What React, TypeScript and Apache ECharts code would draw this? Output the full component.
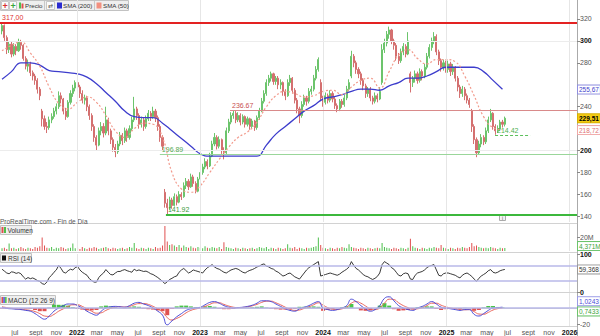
import React, { useEffect, useRef } from "react";
import * as echarts from "echarts";

const DAY = 86400000;
const START = Date.UTC(2021, 4, 24);
const X_MIN = Date.UTC(2021, 4, 18);
const X_MAX = Date.UTC(2026, 0, 23);
const weekTs = (i: number) => START + i * 7 * DAY;

// weekly candles [open, close, low, high]
const candles: number[][] = [
  [309,314,306,317],[314,303,300,315],[303,292,288,305],[292,297,289,300],[297,288,285,299],
  [288,295,286,298],[295,291,287,297],[291,299,290,302],[299,296,292,301],[296,284,282,297],
  [284,277,274,286],[277,279,272,283],[279,271,268,281],[271,268,264,273],[268,264,260,270],
  [264,256,252,266],[256,250,246,258],[236,229,222,238],[229,222,219,232],[222,221,216,226],
  [221,228,219,231],[228,231,225,234],[231,236,229,239],[236,240,233,243],[240,250,238,254],
  [250,247,243,253],[247,236,233,248],[236,231,228,239],[231,244,230,246],[244,252,242,255],
  [252,257,249,260],[257,262,254,264],[262,258,255,266],[258,252,248,260],[252,246,243,255],
  [246,248,242,251],[248,240,236,250],[240,232,228,242],[232,222,218,234],[222,212,208,224],
  [212,205,200,214],[205,218,204,221],[218,222,214,226],[222,216,212,225],[216,228,214,240],
  [228,218,214,230],[218,210,206,220],[210,203,199,212],[203,199,194,206],[199,206,197,209],
  [206,214,204,217],[214,209,205,216],[209,218,207,221],[218,212,208,220],[212,220,210,223],
  [220,228,218,231],[228,238,226,249],[238,232,228,240],[232,224,220,234],[224,228,221,231],
  [228,222,218,230],[222,229,220,232],[229,234,227,237],[234,231,227,236],[231,236,229,240],
  [236,230,226,238],[230,222,218,232],[222,212,208,224],[212,204,200,214],[162,152,148,165],
  [152,148,142,156],[148,155,146,158],[155,150,147,157],[150,158,149,161],[158,153,150,160],
  [153,160,152,163],[160,158,155,162],[158,168,157,171],[168,172,165,175],[172,167,164,174],
  [167,176,166,179],[176,170,167,178],[170,163,161,172],[163,174,162,176],[174,180,172,183],
  [180,185,178,188],[185,190,183,193],[190,186,183,192],[186,195,185,198],[195,206,194,209],
  [206,212,204,216],[212,204,201,214],[204,210,202,213],[210,200,197,211],[200,198,192,203],
  [198,218,197,221],[218,226,216,229],[226,232,224,235],[232,234,229,237],[234,228,225,236],
  [228,232,226,235],[232,226,223,234],[226,231,224,233],[231,224,221,232],[224,229,222,231],
  [229,222,219,230],[222,227,220,229],[227,221,218,228],[221,230,219,232],[230,236,228,239],
  [236,245,235,248],[245,252,243,255],[252,262,250,265],[262,266,259,269],[266,270,263,272],
  [270,263,260,271],[263,266,260,268],[266,260,256,268],[260,262,256,265],[262,254,250,263],
  [254,250,246,256],[250,262,249,265],[262,266,259,269],[266,255,252,267],[255,246,243,257],
  [246,238,234,248],[238,232,225,240],[232,242,230,245],[242,248,240,251],[248,245,241,250],
  [245,254,243,257],[254,256,251,259],[256,266,254,269],[266,274,264,277],[274,283,272,285],
  [262,248,245,265],[248,244,240,250],[244,250,242,253],[250,246,243,252],[246,252,244,255],
  [252,247,244,254],[247,241,238,249],[241,238,235,243],[238,245,236,247],[245,242,239,247],
  [242,248,240,251],[248,256,246,259],[256,262,254,265],[268,286,266,291],[286,280,276,288],
  [280,274,270,282],[274,270,266,276],[270,264,260,272],[264,259,255,266],[259,252,248,261],
  [252,256,249,258],[256,248,245,258],[248,245,242,250],[245,250,243,253],[250,247,244,252],
  [247,254,246,258],[262,292,260,297],[292,298,289,302],[298,306,295,309],[306,310,302,313],
  [310,300,297,311],[300,296,292,302],[296,286,282,298],[286,282,279,289],[282,290,280,293],
  [290,295,287,298],[295,288,285,297],[288,300,287,308],[270,262,253,272],[262,266,258,268],
  [266,270,262,273],[270,264,261,272],[264,272,262,275],[272,268,264,274],[268,276,266,279],
  [276,286,274,289],[286,294,284,297],[294,300,291,303],[300,304,297,308],[304,290,287,306],
  [290,282,278,292],[282,276,272,284],[276,280,273,283],[280,274,271,282],[274,279,271,282],
  [279,272,268,281],[272,276,269,279],[276,266,263,277],[266,258,254,268],[258,252,248,260],
  [252,256,249,259],[256,250,246,258],[250,246,243,252],[246,242,239,248],[236,222,217,238],
  [222,210,206,224],[210,198,194,212],[198,206,196,209],[206,212,203,215],[212,208,205,214],
  [208,218,206,221],[218,228,216,231],[228,234,226,238],[234,222,219,235],[222,218,214.42,224],
  [218,220,216,223],[220,226,218,228],[226,224,221,228],[224,229.51,222,231]
];

// weekly volume (millions)
const volumes: number[] = [
  4,5,3,11,4,5,3,4,6,4, 3,5,4,3,6,5,7,20,8,5, 4,6,3,5,4,6,5,3,4,5,
  11,4,5,3,6,4,3,5,4,6, 5,3,4,5,6,4,3,5,4,3, 4,5,3,4,6,5,12,4,3,5,
  4,3,5,4,3,6,4,5,8,37, 14,9,10,8,6,9,5,8,6,5, 7,5,4,6,5,4,7,5,4,6,
  5,4,6,3,13,6,5,4,3,5, 4,3,5,4,3,4,5,3,4,6, 5,4,6,3,5,4,3,5,4,3,
  4,10,5,4,6,3,5,4,3,5, 4,5,6,7,20,9,5,4,3,5, 4,3,5,4,6,5,4,10,6,5,
  4,3,5,4,3,5,4,3,4,5, 4,12,6,5,4,3,5,4,3,5, 4,3,5,18,7,5,4,3,5,4,
  3,5,4,6,5,4,9,5,4,3, 5,4,3,5,4,6,5,4,6,12, 7,8,6,5,4,5,4,6,5,4,
  3,5,4,4.371
];

// weekly RSI(14)
const rsi: number[] = [
  60,55,50,48,53,52,49,51,48,40, 34,38,35,37,34,30,28,22,20,26,
  38,44,52,58,70,62,52,50,56,60, 58,64,67,58,52,48,44,35,30,26,
  26,38,45,50,59,52,46,45,50,54, 54,57,59,56,54,52,60,56,58,56,
  54,55,52,48,46,42,38,33,28,22, 27,33,36,40,42,52,58,62,56,50,
  53,58,56,54,52,50,58,64,68,72, 66,62,60,56,52,50,54,58,60,62,
  60,56,52,50,54,57,59,62,66,68, 72,74,68,66,62,60,55,52,47,42,
  44,48,50,45,40,37,34,42,50,58, 64,68,72,76,80,42,44,46,48,50,
  48,46,44,47,52,56,60,66,80,70, 62,58,52,46,42,40,36,33,36,41,
  50,72,80,76,72,64,60,52,44,42, 48,50,48,34,33,44,50,52,54,58,
  64,68,70,72,58,44,42,48,50,50, 48,46,44,40,37,44,48,50,46,41,
  34,28,36,42,46,50,56,59,52,50, 52,56,58,59.368
];

// moving averages, one value every 4 weeks
const sma200: number[] = [
  265,272,280,280,278,273,272,271,270,267, 261,253,245,236,231,230,230,225,218,211,
  204,197,195,195,195,195,195,195,205,215, 222,229,236,241,247,249,251,254,256,256,
  255,259,262,266,266,268,272,276,276,276, 276,272,264,256
];
const sma50: number[] = [
  291,296,299,289,277,258,243,238,244,249, 244,232,218,212,220,225,224,212,180,165,
  162,168,180,192,203,212,217,226,240,250, 254,252,249,250,254,255,251,258,264,266,
  257,272,287,292,284,279,283,283,281,268, 250,231,221,219
];

// MACD (12 26 9), one value every 2 weeks
const macd: number[] = [
  1,-0.5,-1,-1.5,-2,-3,-4,-7,-11,-14, -10,-4,0,3,5,5,3,0,-4,-7,
  -9,-4,0,1.5,2,1.5,1,3,6,7, 5,3,0,-4,-9,-21,-16,-11,-7,-3,
  -1,0,1,4,7,8,6,3,1,0, 0.5,1,2,3.5,6,9,9,8,5,2,
  -1,-3,-4,-1,1,3,6,8,0,-2, -3,-2,0,3,11,8,3,-1,-4,-2,
  3,12,14,9,3,0,-2,-3,0,2, 5,8,5,1,0,-1,-2,-3,-2,-2,
  -8,-10,-7,-3,0,0.5,1
];
const signal: number[] = [
  1.5,0.5,-0.3,-1,-1.5,-2.2,-3,-4.5,-7,-10, -10.5,-8,-4,-1,2,4,4,2,-1,-4,
  -6.5,-6,-3,-0.5,1,1.5,1.2,2,4,5.5, 5.5,4.5,2,-1,-5,-12,-15,-13,-10,-6,
  -3,-1.2,0,2,4.5,6.5,6.5,4.5,2.5,1, 0.5,0.7,1.5,2.7,4.5,7,8.5,8.5,6.5,4,
  1,-1.5,-3,-2.5,-0.5,1.5,4,6.5,3.5,0.5, -1.5,-2,-1,1,6,8,6,2.5,-1,-2,
  0,6,11,10.5,6.5,3,0.5,-1.5,-1,0.5, 3,6,6,3.5,1.5,0,-1,-2,-2.2,-2,
  -4.5,-7.5,-7.8,-5.5,-2.5,-0.8,0.3
];

const priceTicks = [140, 160, 180, 200, 240, 280, 300, 320];
const boldPrice = [200, 300];
const monthNames = ["ene","feb","mar","abr","may","jun","jul","ago","sept","oct","nov","dic"];
const years = [2022, 2023, 2024, 2025, 2026];

const levels = [
  { value: 317.0, text: "317,00", start: X_MIN, end: X_MAX, color: "#e32222", textColor: "#e03030", width: 2, dashed: false },
  { value: 236.67, text: "236.67", start: Date.UTC(2023, 2, 31), end: X_MAX, color: "#d98a8a", textColor: "#c85050", width: 1, dashed: false },
  { value: 196.89, text: "196.89", start: Date.UTC(2022, 8, 4), end: X_MAX, color: "#9ad69a", textColor: "#55aa55", width: 1, dashed: false },
  { value: 141.92, text: "141.92", start: Date.UTC(2022, 8, 22), end: X_MAX, color: "#3cb83c", textColor: "#3a9a3a", width: 2, dashed: false },
  { value: 214.42, text: "214.42", start: Date.UTC(2025, 4, 25), end: Date.UTC(2025, 8, 6), color: "#5cc05c", textColor: "#50b050", width: 1.2, dashed: true },
];

const UP = "#6cc46c";
const DOWN = "#d47070";
const FONT = "Liberation Sans, Arial, sans-serif";

function buildOption() {
  const xTicks: number[] = [];
  for (let y = 2021; y <= 2026; y++) {
    for (let m = 0; m < 12; m += 2) {
      const t = Date.UTC(y, m, 1);
      if (t >= Date.UTC(2021, 6, 1) && t <= Date.UTC(2026, 0, 1)) xTicks.push(t);
    }
  }
  const yearLines = years.map((y) => ({
    xAxis: Date.UTC(y, 0, 1),
    lineStyle: { color: "#e6e6e6", width: 1, type: "solid" },
    label: { show: false },
  }));
  const box = (v: number, text: string, color: string, bg: string, border: string, bold = false, offsetY = 0) => ({
    yAxis: v,
    lineStyle: { color: "rgba(0,0,0,0)", width: 0 },
    label: {
      show: true, position: "end", distance: 1, formatter: text, fontSize: 6.5, fontFamily: FONT,
      color, backgroundColor: bg, borderColor: border, borderWidth: 1, padding: [1, 1, 0, 1],
      fontWeight: bold ? "bold" : "normal", offset: [0, offsetY],
    },
  });
  const hLine = (v: number, color: string, width: number) => ({
    yAxis: v, lineStyle: { color, width, type: "solid" }, label: { show: false },
  });
  const levelItems = levels.map((l) => [
    {
      coord: [l.start, l.value],
      lineStyle: { color: l.color, width: l.width, type: l.dashed ? [3, 2] : "solid" },
      label: { show: true, position: "insideStartTop", formatter: l.text, color: l.textColor, fontSize: 7, fontFamily: FONT, distance: [2, 1] },
    },
    { coord: [l.end, l.value] },
  ]);

  const xAxisBase = (i: number) => ({
    type: "value", gridIndex: i, min: X_MIN, max: X_MAX, scale: true,
    axisLine: { show: i === 3, lineStyle: { color: "#cfcfcf" } },
    axisTick: { show: false }, splitLine: { show: false },
    axisLabel: i === 3 ? {
      show: true, customValues: xTicks, margin: 3, fontSize: 7, fontFamily: FONT,
      formatter: (v: number) => {
        const d = new Date(v);
        const m = d.getUTCMonth();
        return m === 0 ? "{y|" + d.getUTCFullYear() + "}" : "{m|" + monthNames[m] + "}";
      },
      rich: {
        y: { fontWeight: "bold", color: "#111", fontSize: 7, fontFamily: FONT },
        m: { color: "#555", fontSize: 7, fontFamily: FONT },
      },
    } : { show: false },
  });

  const yAxisBase = (i: number, min: number, max: number, ticks: number[], fmt: (v: number) => string) => ({
    type: "value", gridIndex: i, position: "right", min, max, scale: true,
    axisLine: { show: true, lineStyle: { color: "#aaaaaa" } },
    axisTick: { show: true, length: 3, customValues: ticks, lineStyle: { color: "#888" } },
    splitLine: { show: false },
    axisLabel: {
      customValues: ticks, margin: 3, fontSize: 7, fontFamily: FONT, formatter: fmt,
      rich: { b: { fontWeight: "bold", color: "#111", fontSize: 7, fontFamily: FONT }, n: { color: "#555", fontSize: 7, fontFamily: FONT } },
    },
  });

  const hist = macd.map((v, j) => +(v - signal[j]).toFixed(2));

  return {
    animation: false,
    textStyle: { fontFamily: FONT },
    grid: [
      { left: 0, top: 0, width: 577, height: 222 },
      { left: 0, top: 224, width: 577, height: 27 },
      { left: 0, top: 254, width: 577, height: 38 },
      { left: 0, top: 293, width: 577, height: 33 },
    ],
    xAxis: [xAxisBase(0), xAxisBase(1), xAxisBase(2), xAxisBase(3)],
    yAxis: [
      yAxisBase(0, 134.9, 337.3, priceTicks, (v) => (boldPrice.includes(v) ? "{b|" + v + "}" : "{n|" + v + "}")),
      yAxisBase(1, 0, 40, [20], () => "{n|20M}"),
      yAxisBase(2, 0, 100, [0, 100], (v) => "{b|" + v + "}"),
      yAxisBase(3, -22.5, 18.75, [-20], (v) => "{n|" + v + "}"),
    ],
    series: [
      {
        type: "line", xAxisIndex: 0, yAxisIndex: 0, data: [[X_MIN, null]], z: 1, symbol: "none",
        markLine: {
          silent: true, symbol: ["none", "none"],
          data: [...yearLines, hLine(200, "#ececec", 1), hLine(300, "#ececec", 1)],
        },
      },
      {
        type: "candlestick", name: "Precio", xAxisIndex: 0, yAxisIndex: 0,
        encode: { x: 0, y: [1, 2, 3, 4] },
        data: candles.map((c, i) => [weekTs(i), c[0], c[1], c[2], c[3]]),
        barWidth: 1.6,
        itemStyle: { color: UP, color0: DOWN, borderColor: UP, borderColor0: DOWN, borderWidth: 1 },
        markLine: {
          silent: true, symbol: ["none", "none"],
          data: [
            ...levelItems,
            box(229.51, "229,51", "#000", "#f3cb13", "#d8b000", true),
          ],
        },
      },
      {
        type: "line", name: "SMA (200)", xAxisIndex: 0, yAxisIndex: 0, smooth: true, symbol: "none",
        data: sma200.map((v, k) => [weekTs(k * 4), v]),
        lineStyle: { color: "#3d3dcc", width: 1.3 },
        markLine: { silent: true, symbol: ["none", "none"], data: [box(255.67, "255,67", "#3d3dcc", "#fff", "#8f8fe0")] },
      },
      {
        type: "line", name: "SMA (50)", xAxisIndex: 0, yAxisIndex: 0, smooth: true, symbol: "none",
        data: sma50.map((v, k) => [weekTs(k * 4), v]),
        lineStyle: { color: "#f29a8c", width: 1.2, type: [2, 2] },
        markLine: { silent: true, symbol: ["none", "none"], data: [box(218.72, "218,72", "#e07070", "#fff", "#f0a8a8")] },
      },
      {
        type: "bar", name: "Volumen", xAxisIndex: 1, yAxisIndex: 1, barWidth: 1,
        data: volumes.map((v, i) => [weekTs(i), v]),
        itemStyle: { color: (p: any) => (candles[p.dataIndex][1] >= candles[p.dataIndex][0] ? "#4cbf4c" : "#e05050") },
        markLine: {
          silent: true, symbol: ["none", "none"],
          data: [...yearLines, box(4.371, "4,371M", "#3aa53a", "#fff", "#6cc46c", false, -2)],
        },
      },
      {
        type: "line", name: "RSI (14)", xAxisIndex: 2, yAxisIndex: 2, symbol: "none",
        data: rsi.map((v, i) => [weekTs(i), v]),
        lineStyle: { color: "#222", width: 0.9 },
        markLine: {
          silent: true, symbol: ["none", "none"],
          data: [...yearLines, hLine(70, "#b9b9e8", 1.5), hLine(30, "#b9b9e8", 1.5), box(59.368, "59,368", "#333", "#fff", "#999")],
        },
      },
      {
        type: "bar", name: "hist", xAxisIndex: 3, yAxisIndex: 3, barWidth: 4,
        data: hist.map((v, j) => [weekTs(j * 2), v]),
        itemStyle: { color: (p: any) => (hist[p.dataIndex] >= 0 ? "#49c449" : "#e05050") },
        markLine: {
          silent: true, symbol: ["none", "none"],
          data: [...yearLines, hLine(0, "#b9b9e8", 1.5)],
        },
      },
      {
        type: "line", name: "signal", xAxisIndex: 3, yAxisIndex: 3, smooth: true, symbol: "none",
        data: signal.map((v, j) => [weekTs(j * 2), v]),
        lineStyle: { color: "#e8645a", width: 1 },
      },
      {
        type: "line", name: "MACD", xAxisIndex: 3, yAxisIndex: 3, smooth: true, symbol: "none",
        data: macd.map((v, j) => [weekTs(j * 2), v]),
        lineStyle: { color: "#4b4bd6", width: 1 },
        markLine: {
          silent: true, symbol: ["none", "none"],
          data: [
            box(1, "1,0243", "#4b4bd6", "#fff", "#9a9ae6", false, -6),
            box(0.7433, "0,7433", "#3aa53a", "#fff", "#6cc46c", false, 4),
          ],
        },
      },
    ],
    graphic: [
      ...[223.5, 252.5, 292.5, 326.5].map((y) => ({
        type: "line", silent: true, shape: { x1: 0, y1: y, x2: 577, y2: y }, style: { stroke: "#d2d2d2", lineWidth: 1 },
      })),
      { type: "line", silent: true, shape: { x1: 577.5, y1: 0, x2: 577.5, y2: 336 }, style: { stroke: "#b0b0b0", lineWidth: 1 } },
      { type: "rect", shape: { x: 0.5, y: 0.5, width: 128, height: 10 }, style: { fill: "#efefef", stroke: "#c2c2c2", lineWidth: 1 } },
      { type: "rect", shape: { x: 1.5, y: 1.5, width: 7, height: 8 }, style: { fill: "#fbfbfb", stroke: "#c8c8c8", lineWidth: 1 } },
      { type: "text", x: 5, y: 6, style: { text: "+", fill: "#d83030", fontSize: 9, fontWeight: "bold", align: "center", verticalAlign: "middle", fontFamily: FONT } },
      { type: "rect", shape: { x: 9.5, y: 1.5, width: 7, height: 8 }, style: { fill: "#fbfbfb", stroke: "#c8c8c8", lineWidth: 1 } },
      { type: "text", x: 13, y: 6, style: { text: "+", fill: "#3aa53a", fontSize: 9, fontWeight: "bold", align: "center", verticalAlign: "middle", fontFamily: FONT } },
      { type: "rect", shape: { x: 19, y: 2.5, width: 2, height: 6 }, style: { fill: "#4cbf4c" } },
      { type: "rect", shape: { x: 21.5, y: 3.5, width: 2, height: 5 }, style: { fill: "#e05050" } },
      { type: "text", x: 25, y: 5.5, style: { text: "Precio", fill: "#333", fontSize: 6.2, verticalAlign: "middle", fontFamily: FONT } },
      { type: "line", shape: { x1: 44.5, y1: 1, x2: 44.5, y2: 10 }, style: { stroke: "#c8c8c8", lineWidth: 1 } },
      { type: "rect", shape: { x: 46.5, y: 1.5, width: 8, height: 8 }, style: { fill: "#fbfbfb", stroke: "#c8c8c8", lineWidth: 1 } },
      { type: "text", x: 50.5, y: 5.5, style: { text: "⇄", fill: "#555", fontSize: 6, align: "center", verticalAlign: "middle", fontFamily: "DejaVu Sans" } },
      { type: "rect", shape: { x: 57, y: 2.5, width: 5, height: 6 }, style: { fill: "#2b2bd0" } },
      { type: "text", x: 63, y: 5.5, style: { text: "SMA (200)", fill: "#333", fontSize: 6.2, verticalAlign: "middle", fontFamily: FONT } },
      { type: "line", shape: { x1: 94.5, y1: 1, x2: 94.5, y2: 10 }, style: { stroke: "#c8c8c8", lineWidth: 1 } },
      { type: "rect", shape: { x: 96.5, y: 2.5, width: 5, height: 6 }, style: { fill: "#f29080" } },
      { type: "text", x: 103, y: 5.5, style: { text: "SMA (50)", fill: "#333", fontSize: 6.2, verticalAlign: "middle", fontFamily: FONT } },
      { type: "text", x: 0, y: 221, style: { text: "ProRealTime.com - Fin de Día", fill: "#555", fontSize: 6.5, verticalAlign: "middle", fontFamily: FONT } },
      { type: "rect", shape: { x: 499.5, y: 214.5, width: 6, height: 6 }, style: { fill: "#f4f4f4", stroke: "#aaa", lineWidth: 1 } },
      { type: "text", x: 502.5, y: 217.8, style: { text: "i", fill: "#666", fontSize: 5, align: "center", verticalAlign: "middle", fontFamily: FONT } },
      { type: "rect", shape: { x: 0.5, y: 225.5, width: 31, height: 9 }, style: { fill: "#efefef", stroke: "#c2c2c2", lineWidth: 1 } },
      { type: "rect", shape: { x: 1.5, y: 227, width: 2, height: 6 }, style: { fill: "#e05050" } },
      { type: "rect", shape: { x: 4, y: 227, width: 2, height: 6 }, style: { fill: "#4cbf4c" } },
      { type: "text", x: 7.5, y: 230.2, style: { text: "Volumen", fill: "#333", fontSize: 6.5, verticalAlign: "middle", fontFamily: FONT } },
      { type: "rect", shape: { x: 0.5, y: 253.5, width: 31, height: 9 }, style: { fill: "#efefef", stroke: "#c2c2c2", lineWidth: 1 } },
      { type: "rect", shape: { x: 2, y: 255.5, width: 4, height: 5 }, style: { fill: "#111" } },
      { type: "text", x: 8, y: 258.2, style: { text: "RSI (14)", fill: "#333", fontSize: 6.5, verticalAlign: "middle", fontFamily: FONT } },
      { type: "rect", shape: { x: 0.5, y: 295.5, width: 55, height: 9 }, style: { fill: "#efefef", stroke: "#c2c2c2", lineWidth: 1 } },
      { type: "rect", shape: { x: 1.5, y: 297, width: 1.5, height: 6 }, style: { fill: "#e05050" } },
      { type: "rect", shape: { x: 3.3, y: 297, width: 1.5, height: 6 }, style: { fill: "#4b4bd6" } },
      { type: "rect", shape: { x: 5.1, y: 297, width: 1.5, height: 6 }, style: { fill: "#49c449" } },
      { type: "text", x: 8, y: 300.2, style: { text: "MACD (12 26 9)", fill: "#333", fontSize: 6.5, verticalAlign: "middle", fontFamily: FONT } },
    ],
  };
}

export default function App() {
  const ref = useRef<HTMLDivElement>(null);
  useEffect(() => {
    const chart = echarts.init(ref.current as HTMLDivElement, null, { renderer: "svg" });
    chart.setOption(buildOption() as any);
    return () => chart.dispose();
  }, []);
  return (
    <div
      ref={ref}
      style={{ position: "absolute", left: 0, top: 0, width: 600, height: 336, background: "#fff" }}
    />
  );
}
